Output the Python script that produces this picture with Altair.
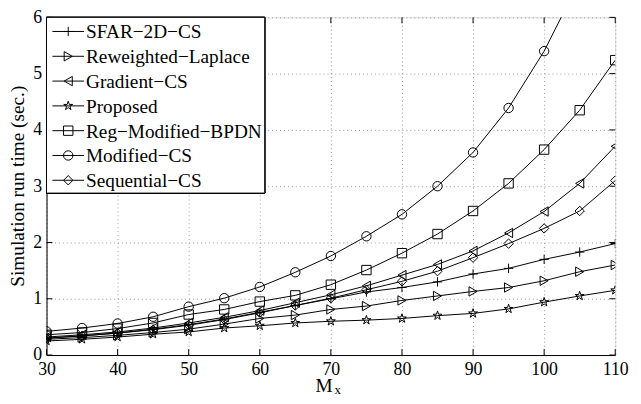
import altair as alt
import pandas as pd

M = [30, 35, 40, 45, 50, 55, 60, 65, 70, 75, 80, 85, 90, 95, 100, 105, 110]

series_names = ["SFAR−2D−CS", "Reweighted−Laplace", "Gradient−CS", "Proposed",
                "Reg−Modified−BPDN", "Modified−CS", "Sequential−CS"]

sfar = [0.30, 0.34, 0.39, 0.46, 0.54, 0.64, 0.76, 0.88, 1.00, 1.12, 1.20, 1.30, 1.44, 1.54, 1.70, 1.83, 1.98]
reweighted = [0.28, 0.31, 0.35, 0.40, 0.46, 0.55, 0.65, 0.71, 0.81, 0.87, 0.97, 1.05, 1.13, 1.20, 1.32, 1.48, 1.60]
gradient = [0.32, 0.36, 0.41, 0.48, 0.57, 0.67, 0.79, 0.93, 1.07, 1.23, 1.42, 1.61, 1.85, 2.17, 2.55, 3.05, 3.71]
proposed = [0.25, 0.28, 0.32, 0.37, 0.41, 0.48, 0.52, 0.57, 0.60, 0.62, 0.65, 0.70, 0.74, 0.82, 0.94, 1.05, 1.15]
regmod = [0.36, 0.40, 0.47, 0.57, 0.72, 0.81, 0.95, 1.06, 1.25, 1.51, 1.81, 2.15, 2.56, 3.05, 3.65, 4.35, 5.24]
modified = [0.42, 0.48, 0.56, 0.68, 0.86, 1.01, 1.21, 1.47, 1.76, 2.11, 2.50, 3.00, 3.60, 4.39, 5.40, 6.65, 8.10]
sequential = [0.30, 0.34, 0.39, 0.45, 0.53, 0.63, 0.75, 0.88, 1.01, 1.16, 1.31, 1.49, 1.73, 1.98, 2.25, 2.56, 3.10]

all_values = [sfar, reweighted, gradient, proposed, regmod, modified, sequential]

x_ticks = [30, 40, 50, 60, 70, 80, 90, 100, 110]
y_ticks = [0, 1, 2, 3, 4, 5, 6]

PLUS = "M-1,0L1,0M0,-1L0,1"
STAR = ("M0,-1L0.225,-0.309L0.951,-0.309L0.363,0.118L0.588,0.809L0,0.382"
        "L-0.588,0.809L-0.363,0.118L-0.951,-0.309L-0.225,-0.309Z")
shapes = [PLUS, "triangle-right", "triangle-left", STAR, "square", "circle", "diamond"]

rows = []
for name, vals in zip(series_names, all_values):
    for m, v in zip(M, vals):
        rows.append({"M": m, "value": v, "series": name})
df = pd.DataFrame(rows)

leg = pd.DataFrame({"series": series_names, "row": list(range(len(series_names)))})
xt = pd.DataFrame({"M": x_ticks})
yt = pd.DataFrame({"value": y_ticks})

FONT = "Liberation Serif, Times New Roman, Times, serif"
TICK_FS = 18
shape_scale = alt.Scale(domain=series_names, range=shapes)

xs = alt.X("M:Q", scale=alt.Scale(domain=[30, 110], nice=False),
           axis=alt.Axis(values=x_ticks, title=None, grid=True, ticks=False,
                         labelPadding=6, labelFontSize=TICK_FS, labelFont=FONT,
                         labelColor="black", domainColor="black", format="d",
                         gridColor="#9a9a9a", gridDash=[1, 3], labelFlush=False))
ys = alt.Y("value:Q", scale=alt.Scale(domain=[0, 6], nice=False),
           axis=alt.Axis(values=y_ticks, title=None, grid=True, ticks=False,
                         labelPadding=5, labelFontSize=TICK_FS, labelFont=FONT,
                         labelColor="black", domainColor="black", format="d",
                         gridColor="#9a9a9a", gridDash=[1, 3], labelFlush=False))

lines = alt.Chart(df).mark_line(color="black", strokeWidth=1, clip=True).encode(
    x=xs, y=ys, detail="series:N")
points = alt.Chart(df).mark_point(color="black", filled=False, strokeWidth=1,
                                  size=90, opacity=1, clip=True).encode(
    x="M:Q", y="value:Q",
    shape=alt.Shape("series:N", scale=shape_scale, legend=None))

# inward ticks on all four sides (MATLAB box style)
tick_b = alt.Chart(xt).mark_rule(color="black", strokeWidth=1).encode(
    x="M:Q", y=alt.value(336), y2=alt.value(342))
tick_t = alt.Chart(xt).mark_rule(color="black", strokeWidth=1).encode(
    x="M:Q", y=alt.value(0), y2=alt.value(6))
tick_l = alt.Chart(yt).mark_rule(color="black", strokeWidth=1).encode(
    y="value:Q", x=alt.value(0), x2=alt.value(6))
tick_r = alt.Chart(yt).mark_rule(color="black", strokeWidth=1).encode(
    y="value:Q", x=alt.value(570), x2=alt.value(576))

main = alt.layer(lines, points, tick_b, tick_t, tick_l, tick_r)

ly = alt.Y("row:Q", scale=alt.Scale(domain=[0, 6], range=[14.3, 165]), axis=None)

leg_box = alt.Chart(leg).mark_rect(fill="white", stroke="black", strokeWidth=1).encode(
    x=alt.value(0), x2=alt.value(221), y=alt.value(0), y2=alt.value(178))
leg_lines = alt.Chart(leg).mark_rule(color="black", strokeWidth=1).encode(
    x=alt.value(6), x2=alt.value(38), y=ly)
leg_pts = alt.Chart(leg).mark_point(color="black", filled=False, strokeWidth=1,
                                    size=90, opacity=1).encode(
    x=alt.value(22), y=ly,
    shape=alt.Shape("series:N", scale=shape_scale, legend=None))
leg_text = alt.Chart(leg).mark_text(align="left", baseline="middle", font=FONT,
                                    fontSize=19.5, color="black", dy=1).encode(
    x=alt.value(40), y=ly, text="series:N")
legend = alt.layer(leg_box, leg_lines, leg_pts, leg_text)

ytitle = alt.Chart(pd.DataFrame({"t": ["Simulation run time (sec.)"]})).mark_text(
    angle=270, font=FONT, fontSize=19.5, color="black", baseline="middle", align="center"
).encode(x=alt.value(-29), y=alt.value(171), text="t:N")
xtitle_m = alt.Chart(pd.DataFrame({"t": ["M"]})).mark_text(
    font=FONT, fontSize=19.5, color="black", baseline="alphabetic", align="center"
).encode(x=alt.value(281), y=alt.value(379), text="t:N")
xtitle_x = alt.Chart(pd.DataFrame({"t": ["x"]})).mark_text(
    font=FONT, fontSize=13, color="black", baseline="alphabetic", align="center"
).encode(x=alt.value(295), y=alt.value(381), text="t:N")
titles = alt.layer(ytitle, xtitle_m, xtitle_x)

chart = alt.layer(main, legend, titles).resolve_scale(y="independent").properties(
    width=576, height=342,
    autosize=alt.AutoSizeParams(type="none"),
    padding={"left": 39, "top": 7, "right": 18, "bottom": 39},
).configure_view(stroke="black", strokeWidth=1).configure(background="white")

chart.save("out.html", embed_options={"renderer": "svg", "actions": False})
